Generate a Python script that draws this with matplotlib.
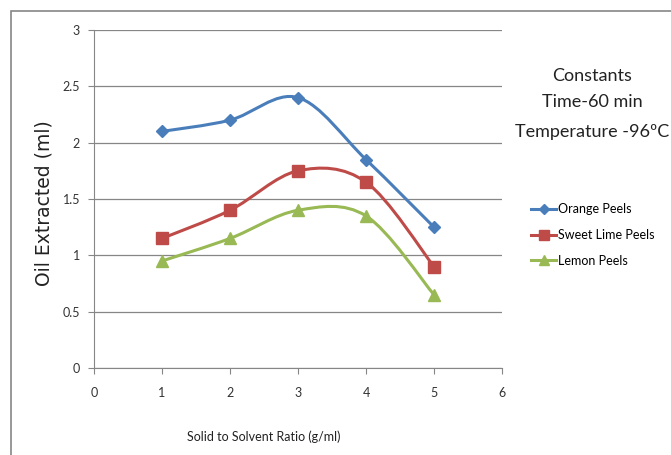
#!/usr/bin/env python3
import matplotlib

matplotlib.use("Agg")
import matplotlib.pyplot as plt  # type: ignore
from matplotlib.path import Path
from matplotlib.patches import PathPatch, Rectangle
from matplotlib.lines import Line2D

ratio = [1, 2, 3, 4, 5]
orange = [2.1, 2.2, 2.4, 1.85, 1.25]
sweet_lime = [1.15, 1.4, 1.75, 1.65, 0.9]
lemon = [0.95, 1.15, 1.4, 1.35, 0.65]
series_names = ["Orange Peels", "Sweet Lime Peels", "Lemon Peels"]
x_ticks = [0, 1, 2, 3, 4, 5, 6]
y_ticks = [0, 0.5, 1, 1.5, 2, 2.5, 3]
y_labels = ["0", "0.5", "1", "1.5", "2", "2.5", "3"]

colors = ["#4A7EBB", "#BE4B48", "#98B954"]
markers = ["D", "s", "^"]
msizes = [6, 8, 8]

plt.rcParams["font.family"] = ["Lato", "DejaVu Sans"]


def smooth_path(xs, ys):
    # excel style smoothed line: bezier segments through the data points
    pts = list(zip(xs, ys))
    n = len(pts)
    verts = [pts[0]]
    codes = [Path.MOVETO]
    for i in range(n - 1):
        p0 = pts[i - 1] if i > 0 else pts[i]
        p1 = pts[i]
        p2 = pts[i + 1]
        p3 = pts[i + 2] if i + 2 < n else pts[i + 1]
        c1 = (p1[0] + (p2[0] - p0[0]) / 6, p1[1] + (p2[1] - p0[1]) / 6)
        c2 = (p2[0] - (p3[0] - p1[0]) / 6, p2[1] - (p3[1] - p1[1]) / 6)
        verts += [c1, c2, p2]
        codes += [Path.CURVE4] * 3
    return Path(verts, codes)


fig = plt.figure(figsize=(6.71, 4.55), dpi=100)
ax = fig.add_axes([94 / 671, 1 - 368 / 455, 408 / 671, 338 / 455])

handles = []
for ys, name, c, m, ms in zip([orange, sweet_lime, lemon], series_names, colors, markers, msizes):
    ax.add_patch(PathPatch(smooth_path(ratio, ys), fill=False, edgecolor=c, lw=2.2, zorder=3))
    ax.plot(ratio, ys, ls="none", marker=m, color=c, ms=ms, zorder=4)
    handles.append(Line2D([], [], color=c, lw=2.2, marker=m, ms=ms - 1, label=name))

ax.set_xlim(0, 6)
ax.set_ylim(0, 3)
ax.set_xticks(x_ticks)
ax.set_yticks(y_ticks)
ax.set_yticklabels(y_labels)
ax.grid(axis="y", color="#868686", lw=0.9)
ax.set_axisbelow(True)
for side in ["top", "right"]:
    ax.spines[side].set_visible(False)
for side in ["left", "bottom"]:
    ax.spines[side].set_color("#868686")
ax.tick_params(direction="out", length=4, color="#868686", labelsize=9, labelcolor="#333333", pad=6)
ax.tick_params(axis="x", pad=10)

fig.text(264 / 671, 1 - 437 / 455, "Solid to Solvent Ratio (g/ml)", ha="center", va="center",
         fontsize=9, color="#222222")
fig.text(44 / 671, 1 - 203 / 455, "Oil Extracted (ml)", rotation=90, ha="center", va="center",
         fontsize=13.5, color="#222222", family=["DejaVu Sans"])

note = ["Constants", "Time-60 min", "Temperature -96ºC"]
for txt, yy in zip(note, [76, 102, 132]):
    fig.text(592 / 671, 1 - yy / 455, txt, ha="center", va="center", fontsize=13, color="#222222")

fig.legend(handles=handles, loc="upper left", bbox_to_anchor=(520 / 671, 1 - 192 / 455),
           frameon=False, fontsize=9, handlelength=2.0, handletextpad=0.1, labelspacing=1.1)

fig.add_artist(Rectangle((11 / 671, -0.05), 1.0, 1 - 11 / 455 + 0.05, transform=fig.transFigure,
                         fill=False, edgecolor="#868686", lw=1.2))

fig.savefig("out.png", dpi=100)
